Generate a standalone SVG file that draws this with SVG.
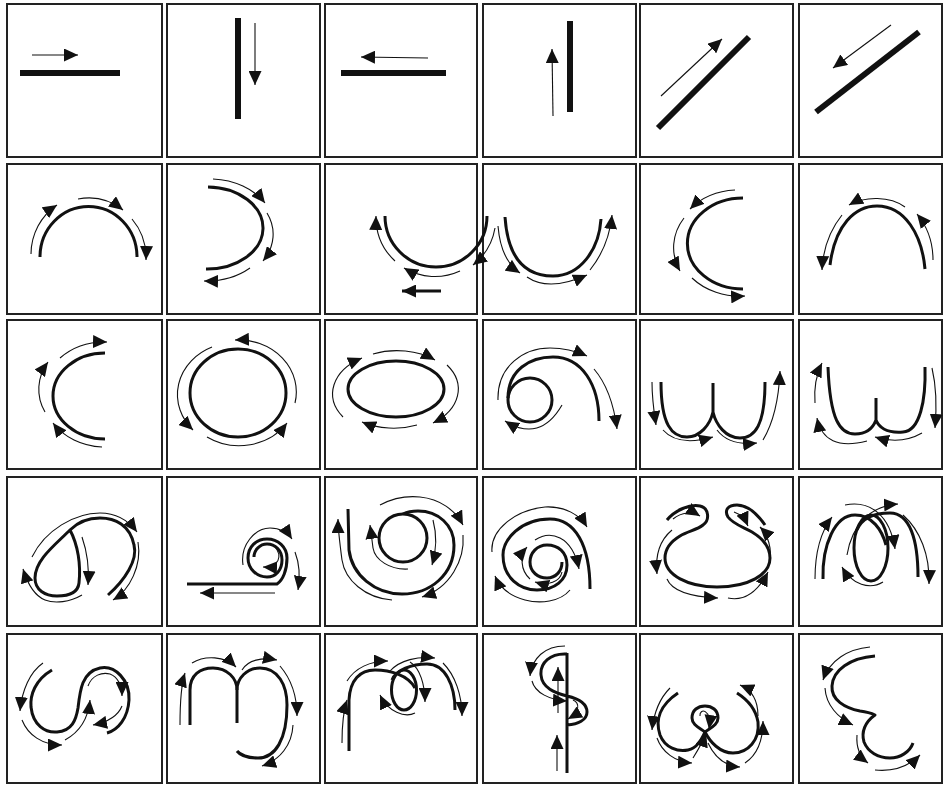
<svg xmlns="http://www.w3.org/2000/svg" width="944" height="785" viewBox="0 0 944 785">
<defs>
<marker id="ah" viewBox="0 0 14 13" refX="14" refY="6.5" markerWidth="14" markerHeight="13" markerUnits="userSpaceOnUse" orient="auto"><path d="M0,0 L14,6.5 L0,13 Z" fill="#111"/></marker>
</defs>
<style>
.frame{fill:#fff;stroke:#222;stroke-width:2}
.bar{fill:none;stroke:#111;stroke-width:6}
.k{fill:none;stroke:#111;stroke-width:3;stroke-linejoin:round}
.t{fill:none;stroke:#111;stroke-width:1.1;marker-end:url(#ah)}
.ts{fill:none;stroke:#111;stroke-width:3;marker-end:url(#ah)}
</style>
<rect width="944" height="785" fill="#fff"/>
<g id="frames">
<rect class="frame" x="7" y="4" width="155" height="153"/><rect class="frame" x="167" y="4" width="153" height="153"/><rect class="frame" x="325" y="4" width="152" height="153"/><rect class="frame" x="483" y="4" width="153" height="153"/><rect class="frame" x="640" y="4" width="153" height="153"/><rect class="frame" x="799" y="4" width="143" height="153"/>
<rect class="frame" x="7" y="164" width="155" height="150"/><rect class="frame" x="167" y="164" width="153" height="150"/><rect class="frame" x="325" y="164" width="152" height="150"/><rect class="frame" x="483" y="164" width="153" height="150"/><rect class="frame" x="640" y="164" width="153" height="150"/><rect class="frame" x="799" y="164" width="143" height="150"/>
<rect class="frame" x="7" y="320" width="155" height="149"/><rect class="frame" x="167" y="320" width="153" height="149"/><rect class="frame" x="325" y="320" width="152" height="149"/><rect class="frame" x="483" y="320" width="153" height="149"/><rect class="frame" x="640" y="320" width="153" height="149"/><rect class="frame" x="799" y="320" width="143" height="149"/>
<rect class="frame" x="7" y="477" width="155" height="149"/><rect class="frame" x="167" y="477" width="153" height="149"/><rect class="frame" x="325" y="477" width="152" height="149"/><rect class="frame" x="483" y="477" width="153" height="149"/><rect class="frame" x="640" y="477" width="153" height="149"/><rect class="frame" x="799" y="477" width="143" height="149"/>
<rect class="frame" x="7" y="634" width="155" height="149"/><rect class="frame" x="167" y="634" width="153" height="149"/><rect class="frame" x="325" y="634" width="152" height="149"/><rect class="frame" x="483" y="634" width="153" height="149"/><rect class="frame" x="640" y="634" width="153" height="149"/><rect class="frame" x="799" y="634" width="143" height="149"/>
</g>
<g id="cell-1-1"><path class="bar" d="M20,73 H120"/><path class="t" d="M32,55 H78"/></g>
<g id="cell-1-2"><path class="bar" d="M238,18 V119"/><path class="t" d="M255,23 V85"/></g>
<g id="cell-1-3"><path class="bar" d="M341,73 H446"/><path class="t" d="M428,58 L361,57"/></g>
<g id="cell-1-4"><path class="bar" d="M570,21 V112"/><path class="t" d="M553,116 L552,49"/></g>
<g id="cell-1-5"><path class="bar" d="M658,128 L749,37"/><path class="t" d="M661,96 L722,39"/></g>
<g id="cell-1-6"><path class="bar" d="M816,112 L919,32"/><path class="t" d="M891,25 L833,68"/></g>

<g id="cell-2-1"><path class="k" d="M40,257 A48,50 0 0 1 137,257"/>
<path class="t" d="M31,254 A57,59 0 0 1 57,205"/><path class="t" d="M78,199 A57,59 0 0 1 123,210"/><path class="t" d="M132,219 A57,59 0 0 1 146,260"/></g>
<g id="cell-2-2"><path class="k" d="M208,187 A56,41 0 0 1 206,269"/>
<path class="t" d="M213,179 A65,50 0 0 1 265,203"/><path class="t" d="M267,213 A65,50 0 0 1 263,261"/><path class="t" d="M250,268 A65,50 0 0 1 204,281"/></g>
<g id="cell-2-3"><path class="k" d="M385,216 A51,51 0 0 0 487,216"/>
<path class="t" d="M395,261 A60,60 0 0 1 376,216"/><path class="t" d="M460,271 A60,60 0 0 1 404,268"/><path class="t" d="M495,228 A60,60 0 0 1 473,265"/><path class="ts" d="M441,291 H402"/></g>
<g id="cell-2-4"><path class="k" d="M505,217 C508,262 528,276 553,276 C580,276 599,250 601,219"/>
<path class="t" d="M498,226 C500,250 508,265 520,273"/><path class="t" d="M527,277 Q549,292 587,275"/><path class="t" d="M590,270 C602,255 610,235 612,215"/></g>
<g id="cell-2-5"><path class="k" d="M743,198 A55,45 0 0 0 743,289"/>
<path class="t" d="M735,190 A64,54 0 0 0 690,209"/><path class="t" d="M684,218 A64,54 0 0 0 680,271"/><path class="t" d="M692,278 A64,54 0 0 0 745,296"/></g>
<g id="cell-2-6"><path class="k" d="M830,265 C835,225 855,206 877,206 C905,206 922,235 925,269"/>
<path class="t" d="M905,207 C890,196 865,196 849,205"/><path class="t" d="M842,215 C830,230 823,250 822,270"/><path class="t" d="M933,260 C933,240 926,225 917,214"/></g>

<g id="cell-3-1"><path class="k" d="M105,353 A52,43 0 0 0 105,439"/>
<path class="t" d="M60,358 A62,52 0 0 1 107,342"/><path class="t" d="M45,412 A62,52 0 0 1 48,362"/><path class="t" d="M102,447 A62,52 0 0 1 53,423"/></g>
<g id="cell-3-2"><ellipse class="k" cx="238" cy="393" rx="48" ry="44"/>
<path class="t" d="M295,403 A58,52 0 0 0 235,340"/><path class="t" d="M212,347 A58,52 0 0 0 193,430"/><path class="t" d="M207,437 A58,52 0 0 0 287,423"/></g>
<g id="cell-3-3"><ellipse class="k" cx="396" cy="389" rx="48" ry="28"/>
<path class="t" d="M373,354 A58,38 0 0 1 435,360"/><path class="t" d="M343,417 A62,42 0 0 1 362,358"/><path class="t" d="M447,365 A62,42 0 0 1 433,423"/><path class="t" d="M417,425 A58,38 0 0 1 362,422"/></g>
<g id="cell-3-4"><circle class="k" cx="530" cy="400" r="22"/><path class="k" d="M508,398 C508,370 530,357 553,357 C582,357 599,385 599,421"/>
<path class="t" d="M498,400 C497,365 525,348 550,348 C565,348 578,352 587,356"/><path class="t" d="M594,369 Q612,390 617,429"/><path class="t" d="M562,405 Q540,443 505,421"/></g>
<g id="cell-3-5"><path class="k" d="M661,382 C661,425 672,437 687,437 C700,437 710,425 713,412 C716,425 726,438 740,438 C755,438 765,425 765,382 M713,383 V412"/>
<path class="t" d="M652,382 C652,400 654,412 656,425"/><path class="t" d="M663,430 Q678,447 713,437"/><path class="t" d="M717,430 Q729,446 757,443"/><path class="t" d="M763,440 C775,420 779,395 780,371"/></g>
<g id="cell-3-6"><path class="k" d="M828,367 C830,420 840,434 855,434 C866,434 873,428 876,420 C880,430 890,433 903,432 C920,431 926,400 925,367 M876,398 V420"/>
<path class="t" d="M815,403 C814,390 816,375 822,363"/><path class="t" d="M867,441 Q824,452 817,418"/><path class="t" d="M922,433 Q901,445 875,437"/><path class="t" d="M932,368 C936,385 937,405 935,428"/></g>

<g id="cell-4-1"><path class="k" d="M108,595 C125,580 138,560 134,545 C130,525 115,518 100,518 C85,518 75,525 70,530 C55,545 35,560 35,578 C35,590 45,596 57,596 C70,596 78,592 79,583 C81,565 78,545 70,530"/>
<path class="t" d="M32,557 C45,530 75,513 100,513 C115,513 128,520 137,532"/><path class="t" d="M82,595 C70,602 55,604 45,600 C35,596 28,585 23,569"/><path class="t" d="M82,537 Q90,560 88,585"/><path class="t" d="M138,542 C142,565 130,590 113,600"/></g>
<g id="cell-4-2"><path class="k" d="M187,584 L277,584 C283,580 287,570 287,558 C287,547 278,539 267,539 C256,539 248,547 248,558 C248,569 257,577 267,577 C276,577 282,570 282,560 C282,550 275,544 267,544 C260,544 254,550 254,557"/>
<path class="t" d="M275,593 H200"/><path class="t" d="M243,565 C240,545 255,528 270,528 C280,528 288,533 292,539"/><path class="t" d="M295,552 C300,565 300,578 298,590"/><path class="t" d="M275,547 C282,555 280,568 263,567"/></g>
<g id="cell-4-3"><circle class="k" cx="403" cy="538" r="24"/><path class="k" d="M348,509 L349,550 C352,575 375,594 402,594 C430,594 454,575 454,545 C454,525 438,511 418,511 C410,511 405,513 403,514"/>
<path class="t" d="M380,505 C395,497 410,496 420,497 C440,499 455,510 463,525"/><path class="t" d="M392,600 C365,598 345,580 342,560 C340,545 338,530 338,519"/><path class="t" d="M408,569 C390,570 375,560 373,548 C372,540 371,532 370,525"/><path class="t" d="M433,520 C437,535 436,552 432,565"/><path class="t" d="M463,535 C465,560 450,588 422,597"/></g>
<g id="cell-4-4"><path class="k" d="M590,589 C590,545 575,519 550,519 C520,519 503,540 503,555 C503,578 520,590 537,590 C555,590 567,580 567,565 C567,552 558,545 547,545 C537,545 530,553 530,562 C530,572 538,578 547,578 C556,578 562,571 562,562"/>
<path class="t" d="M492,552 C490,530 515,510 545,507 C565,506 580,515 587,527"/><path class="t" d="M570,590 C560,602 540,604 525,600 C510,596 500,588 495,576"/><path class="t" d="M535,540 C550,530 572,535 579,569"/><path class="t" d="M530,579 C520,570 520,555 527,547"/><path class="t" d="M562,572 C560,582 548,586 535,582"/></g>
<g id="cell-4-5"><path class="k" d="M667,520 C675,510 690,504 700,506 C709,508 710,520 703,525 C697,530 688,531 680,536 C670,542 665,550 665,558 C665,575 688,587 717,587 C748,587 770,575 770,558 C770,547 762,538 752,532 C743,527 733,524 728,517 C724,510 728,505 737,505 C748,505 758,515 765,525"/>
<path class="t" d="M673,519 C682,512 692,511 700,516"/><path class="t" d="M734,512 C740,514 745,519 748,526"/><path class="t" d="M672,530 C660,540 655,555 657,574"/><path class="t" d="M667,579 Q674,596 718,598"/><path class="t" d="M728,598 Q752,603 768,572"/><path class="t" d="M770,562 C772,548 768,535 760,527"/></g>
<g id="cell-4-6"><path class="k" d="M823,579 C822,545 835,515 855,515 C872,515 882,530 886,545"/><ellipse class="k" cx="871" cy="548" rx="17" ry="33"/><path class="k" d="M857,530 C862,518 875,513 890,513 C910,513 918,540 918,577"/>
<path class="t" d="M815,579 C815,550 822,530 832,517"/><path class="t" d="M847,555 C852,525 870,506 898,504"/><path class="t" d="M845,505 C870,500 890,515 895,549"/><path class="t" d="M903,515 C920,530 930,555 929,584"/><path class="t" d="M883,582 C870,590 852,585 842,567"/></g>

<g id="cell-5-1"><path class="k" d="M52,670 C35,680 30,695 31,707 C33,725 45,733 57,732 C72,731 76,720 78,708 C80,690 82,672 100,668 C115,665 130,680 129,700 C128,718 118,730 107,733"/>
<path class="t" d="M43,663 C30,672 22,690 20,711"/><path class="t" d="M22,720 C28,735 42,745 62,745"/><path class="t" d="M65,740 C78,733 88,720 90,700"/><path class="t" d="M88,686 C92,675 102,672 110,674 C118,677 122,686 122,696"/><path class="t" d="M122,706 C118,716 108,722 93,725"/></g>
<g id="cell-5-2"><path class="k" d="M190,725 L190,690 C190,675 200,668 213,668 C227,668 237,678 237,690 L237,723"/><path class="k" d="M237,690 C237,678 247,668 260,668 C278,668 287,685 287,705 C287,740 275,758 258,758 C248,758 240,755 237,751"/>
<path class="t" d="M180,725 C180,700 181,685 185,673"/><path class="t" d="M192,663 C205,655 225,656 236,667"/><path class="t" d="M242,670 C248,660 262,657 277,660"/><path class="t" d="M280,666 C292,680 297,698 297,716"/><path class="t" d="M293,725 C292,745 280,760 262,766"/></g>
<g id="cell-5-3"><path class="k" d="M349,751 L349,700 C350,680 360,670 375,670 C390,670 408,675 415,688"/><ellipse class="k" cx="404" cy="690" rx="12.5" ry="20"/><path class="k" d="M392,680 C396,670 412,664 427,664 C445,664 455,685 455,710"/>
<path class="t" d="M342,743 C342,725 343,712 347,700"/><path class="t" d="M347,681 C355,668 370,661 388,661"/><path class="t" d="M390,671 C400,660 418,656 435,658"/><path class="t" d="M410,662 C420,668 425,685 425,702"/><path class="t" d="M415,713 C405,718 388,712 380,695"/><path class="t" d="M443,663 C455,675 462,695 462,716"/></g>
<g id="cell-5-4"><path class="k" d="M567,653 V773 M567,654 C550,653 540,663 541,675 C542,688 555,693 567,696 C580,699 587,705 587,712 C587,720 578,724 567,725"/>
<path class="t" d="M565,646 C545,646 532,658 530,676"/><path class="t" d="M532,681 C535,693 550,700 567,701"/><path class="t" d="M558,713 V667"/><path class="t" d="M573,700 C580,703 580,712 568,719"/><path class="t" d="M557,771 V735"/></g>
<g id="cell-5-5"><path class="k" d="M678,693 C660,705 655,720 660,735 C665,748 678,752 688,750 C698,748 702,738 705,732 C710,742 720,753 733,753 C748,753 760,740 758,722 C756,710 748,700 737,693"/><path class="k" d="M705,732 C700,728 692,725 692,718 C692,710 698,706 705,706 C712,706 718,710 718,718 C718,725 710,728 705,732"/>
<path class="t" d="M700,716 C699,708 712,708 709,729"/><path class="t" d="M670,688 C660,698 654,712 652,730"/><path class="t" d="M657,738 C662,752 675,762 692,763"/><path class="t" d="M693,758 C698,750 703,742 706,733"/><path class="t" d="M708,743 C715,758 725,766 740,767"/><path class="t" d="M745,763 C757,755 763,740 763,721"/><path class="t" d="M758,716 C758,700 752,690 740,685"/></g>
<g id="cell-5-6"><path class="k" d="M875,656 C850,658 833,670 832,686 C831,700 845,708 860,711 C868,712 873,714 875,715 C865,722 861,732 864,742 C868,752 878,758 890,758 C900,758 910,752 913,743"/>
<path class="t" d="M870,647 C848,649 830,660 823,680"/><path class="t" d="M825,688 C826,705 838,718 853,725"/><path class="t" d="M857,735 C856,748 860,757 868,763"/><path class="t" d="M875,770 C895,772 910,765 920,755"/></g>
</svg>
